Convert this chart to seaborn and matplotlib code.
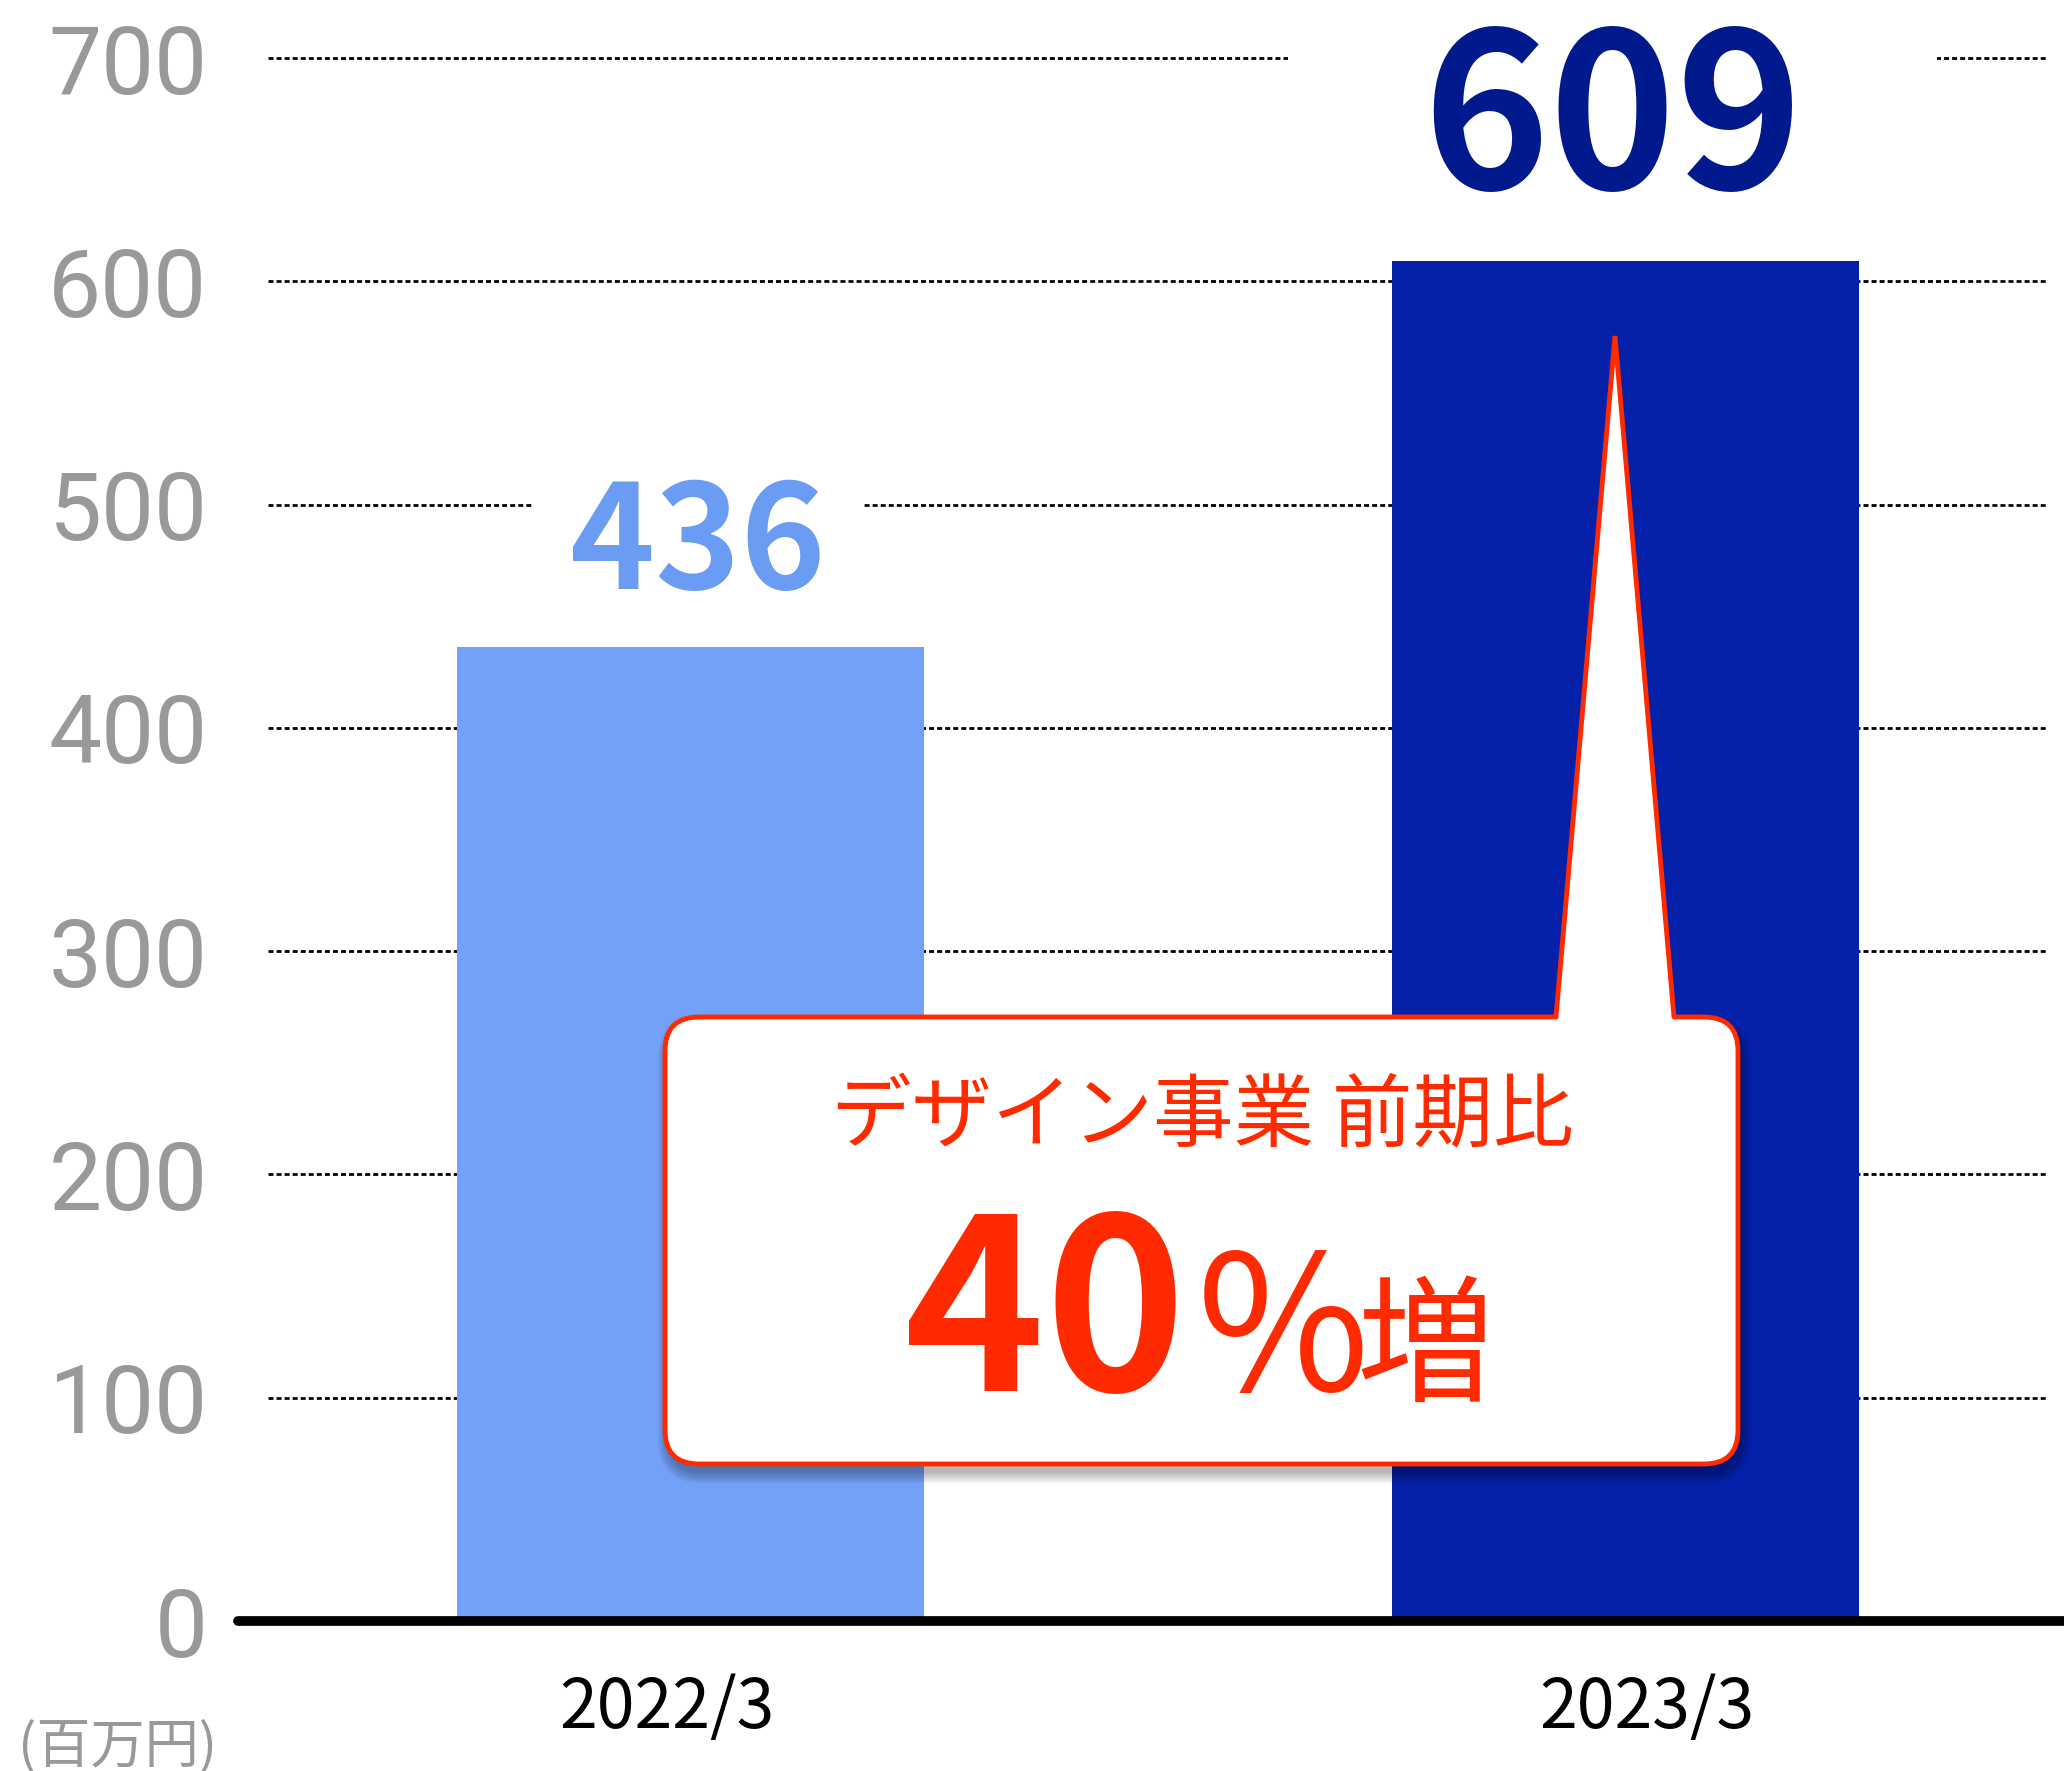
import pandas as pd
import matplotlib
matplotlib.use("Agg")
import matplotlib.pyplot as plt
import seaborn as sns
from matplotlib.patches import FancyBboxPatch, Polygon, Rectangle
from matplotlib.lines import Line2D
from matplotlib.transforms import IdentityTransform, ScaledTranslation

# --------------------------
# Dados
# --------------------------
categories = ["2022/3", "2023/3"]
values = [436, 609]
bar_colors = ["#72A1F7", "#0520A9"]
label_colors = ["#6B9CF4", "#001A8E"]
y_ticks = [0, 100, 200, 300, 400, 500, 600, 700]
unit_label = "(百万円)"
callout_line1 = "デザイン事業 前期比"
callout_num = "40"
callout_pct = "%"
callout_suffix = "増"

RED = "#FF2A00"
GRAY = "#999999"

sns.set_style("white")
plt.rcParams['font.family'] = ['Noto Sans CJK JP', 'DejaVu Sans']

W, H = 2064, 1771
fig = plt.figure(figsize=(W / 100, H / 100), dpi=100)


def fx(px):
    return px / W


def fy(py):
    return 1 - py / H


ax = fig.add_axes([fx(238), fy(1621), fx(2064) - fx(238), fy(58) - fy(1621)])

df = pd.DataFrame({"periodo": categories, "valor": values})
sns.barplot(data=df, x="periodo", y="valor", hue="periodo",
            palette=dict(zip(categories, bar_colors)), width=0.5,
            saturation=1, legend=False, ax=ax, zorder=3, linewidth=0)

ax.set_xlim(-0.484, 1.469)
ax.set_ylim(0, 700)

# linhas de grade pontilhadas
for t in y_ticks[1:]:
    ax.axhline(t, xmin=0.0164, xmax=0.9907, color="black", lw=2,
               ls=(0, (1.8, 1.1)), zorder=1, clip_on=False)
# eixo zero
ax.axhline(0, color="black", lw=7, zorder=4, clip_on=False)

for s in ax.spines.values():
    s.set_visible(False)

ax.set_yticks(y_ticks)
ax.tick_params(axis="y", length=0, pad=22, labelsize=68, labelcolor=GRAY)
for lbl in ax.get_yticklabels():
    lbl.set_fontfamily("Roboto")

ax.tick_params(axis="x", length=0, pad=38, labelsize=49, labelcolor="black")
for lbl, dx in zip(ax.get_xticklabels(), [-24, 21]):
    lbl.set_transform(lbl.get_transform() + ScaledTranslation(dx / 100, 0, fig.dpi_scale_trans))
ax.set_xlabel("")
ax.set_ylabel("")

# rótulos de valor
sizes = [104, 155]
offs = [(7, 58), (-13, 72)]
gaps = [38, 134]
textos = []
for i, v in enumerate(values):
    t = ax.annotate(str(v), (i, v), xytext=offs[i], textcoords="offset pixels",
                    ha="center", va="baseline", fontsize=sizes[i], fontweight="bold",
                    color=label_colors[i], zorder=2.5, annotation_clip=False)
    textos.append(t)

# fundo branco atrás dos rótulos (corta as linhas de grade)
fig.canvas.draw()
inv = fig.transFigure.inverted()
for t, g in zip(textos, gaps):
    bb = t.get_window_extent()
    (x0, y0), (x1, y1) = inv.transform([(bb.x0 - g, bb.y0), (bb.x1 + g, bb.y1)])
    r = Rectangle((x0, y0), x1 - x0, y1 - y0, transform=fig.transFigure,
                  facecolor="white", edgecolor="none", zorder=2)
    ax.add_patch(r)
    r.set_clip_on(False)

ax.set_xlim(-0.484, 1.469)
ax.set_ylim(0, 700)

# --------------------------
# Balão de destaque
# --------------------------
idt = IdentityTransform()
bx0, by_top, bx1, by_bot = 665, 1017, 1738, 1464
for k in range(6):
    sh = FancyBboxPatch((bx0 + 3, H - by_bot - 9), bx1 - bx0, by_bot - by_top,
                        boxstyle=f"round,pad={k * 2},rounding_size={34 + k * 2}",
                        fc="black", ec="none", alpha=0.05, transform=idt, zorder=4)
    fig.add_artist(sh)

box = FancyBboxPatch((bx0, H - by_bot), bx1 - bx0, by_bot - by_top,
                     boxstyle="round,pad=0,rounding_size=34",
                     fc="white", ec=RED, lw=3.5, transform=idt, zorder=5)
fig.add_artist(box)

ponta = [(1556, H - by_top - 4), (1615, H - 336), (1674, H - by_top - 4)]
fig.add_artist(Polygon(ponta, closed=True, fc="white", ec="none", transform=idt, zorder=6))
fig.add_artist(Line2D([1556, 1615, 1674], [H - by_top, H - 336, H - by_top],
                      color=RED, lw=3.5, solid_joinstyle="miter", transform=idt, zorder=7))

fig.text(fx(1202), fy(1118), callout_line1, ha="center", va="center",
         fontsize=58, color=RED, zorder=8)
fig.text(fx(1045), fy(1391), callout_num, ha="center", va="baseline",
         fontsize=172, fontweight="bold", color=RED, zorder=8)
fig.text(fx(1283), fy(1391), callout_pct, ha="center", va="baseline",
         fontsize=135, color=RED, zorder=8)
fig.text(fx(1425), fy(1391), callout_suffix, ha="center", va="baseline",
         fontsize=99, color=RED, zorder=8)

fig.text(fx(18), fy(1747), unit_label, ha="left", va="center",
         fontsize=39, color=GRAY)

fig.savefig("out.png", dpi=100)
print("Salvo: out.png")
